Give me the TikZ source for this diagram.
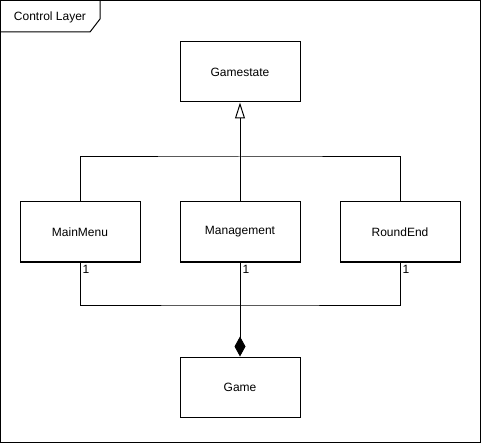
\documentclass[tikz,border=0pt]{standalone}
\usepackage{fontspec}
\setmainfont{Liberation Sans}
\usetikzlibrary{arrows.meta}

\begin{document}
\begin{tikzpicture}[x=1pt,y=-1pt,line width=1pt,font=\fontsize{12}{14}\selectfont,
  classbox/.style={draw,rectangle,minimum width=120pt,minimum height=60pt},
  mult/.style={anchor=north west,inner sep=1pt,font=\fontsize{12}{14}\selectfont}]
  \useasboundingbox (0,0) rectangle (481,443);
  % Frame with tab
  \draw (0.5,0.5) rectangle (480.5,442.5);
  \draw (0.5,32) -- (90,32) -- (100,19) -- (100,0.5);
  \node (layer) at (50,17) {Control Layer};
  % Classes
  \node[classbox] (gamestate) at (240,72) {Gamestate};
  \node[classbox] (mainmenu) at (80,232) {MainMenu};
  \node[classbox] (management) at (240,232) {Management};
  \node[classbox] (roundend) at (400,232) {RoundEnd};
  \node[classbox] (game) at (240,387) {Game};
  % Inheritance
  \coordinate (gen) at (240,157);
  \draw (mainmenu.north) |- (gen) -| (roundend.north);
  \draw[-{Triangle[open,length=16pt,width=10pt]}] (management) -- (gamestate);
  % Composition
  \coordinate (comp) at (240,305);
  \draw (mainmenu.south) |- (comp) -| (roundend.south);
  \draw[-{Diamond[length=20pt,width=11pt]}] (management) -- (game);
  % Multiplicities
  \node[mult] (m1) at ([xshift=1pt,yshift=-1pt]mainmenu.south) {1};
  \node[mult] (m2) at ([xshift=1pt,yshift=-1pt]management.south) {1};
  \node[mult] (m3) at ([xshift=1pt,yshift=-1pt]roundend.south) {1};
\end{tikzpicture}
\end{document}
